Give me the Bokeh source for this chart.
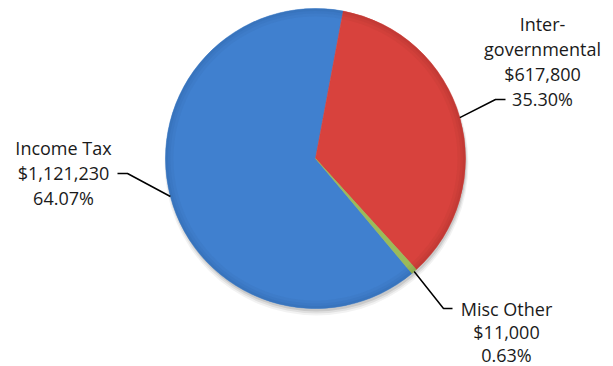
import math
from bokeh.plotting import figure
from bokeh.models import Range1d, ColumnDataSource
from bokeh.core.properties import value
from bokeh.embed import file_html
from bokeh.resources import INLINE

# ---- data ----
categories = ["Income Tax", "Intergovernmental", "Misc Other"]
label_names = [["Income Tax"], ["Inter-", "governmental"], ["Misc Other"]]
amounts = [1121230, 617800, 11000]
colors = ["#4080cf", "#d8423d", "#9bbb59"]
rim_colors = ["#2f62a6", "#a8302c", "#7a9444"]
first_slice_angle = 140.0  # degrees clockwise from 12 o'clock

W, H = 613, 366
cx, cy = 315.0, H - 158.0
R = 150.0

total = sum(amounts)
fracs = [a / total for a in amounts]

starts_cw, ends_cw = [], []
acc = first_slice_angle
for f in fracs:
    starts_cw.append(acc)
    acc += f * 360.0
    ends_cw.append(acc)
mid_cw = [(s + e) / 2 for s, e in zip(starts_cw, ends_cw)]

def to_math(cw_deg):
    return math.radians(90.0 - cw_deg)

src = ColumnDataSource(dict(
    start=[to_math(e) for e in ends_cw],
    end=[to_math(s) for s in starts_cw],
    color=colors,
    rim=rim_colors,
))

p = figure(width=W, height=H, output_backend="svg", toolbar_location=None,
           x_range=Range1d(0, W), y_range=Range1d(0, H),
           min_border=0, outline_line_color=None, background_fill_color="white",
           border_fill_color="white")
p.axis.visible = False
p.grid.visible = False

# soft shadow
for off, rr, a in [(5, R + 2, 0.05), (4, R + 1, 0.07), (3, R, 0.10)]:
    p.scatter(x=[cx + 1], y=[cy - off], size=2 * rr, marker="circle",
              fill_color="#000000", fill_alpha=a, line_color=None)

# slices
p.wedge(x=cx, y=cy, radius=R, start_angle="start", end_angle="end",
        fill_color="color", line_color="color", line_width=0.5, source=src)
# soft darker rim bevel
for inner, a in [(R - 8, 0.12), (R - 5, 0.15), (R - 2.5, 0.2)]:
    p.annular_wedge(x=cx, y=cy, inner_radius=inner, outer_radius=R,
                    start_angle="start", end_angle="end",
                    fill_color="rim", fill_alpha=a, line_color=None, source=src)

# leader lines: anchor on slice mid-angle at the rim
elbows = [(127, H - 173, 117, H - 173),
          (495, H - 99, 505, H - 99),
          (443, H - 308, 452, H - 308)]
for m, (ex, ey, hx, hy) in zip(mid_cw, elbows):
    a = to_math(m)
    ax, ay = cx + R * math.cos(a), cy + R * math.sin(a)
    p.line(x=[ax, ex, hx], y=[ay, ey, hy], line_color="black", line_width=1.5)

# labels
label_pos = [(63, 147, 25.3), (542, 23, 25.3), (506, 308, 23.0)]
for names, amt, f, (lx, ly, gap) in zip(label_names, amounts, fracs, label_pos):
    lines = names + ["${:,}".format(amt), "{:.2f}%".format(f * 100)]
    for i, t in enumerate(lines):
        p.text(x=[lx], y=[H - (ly + i * gap)], text=[t],
               text_align="center", text_baseline="alphabetic",
               text_font=value("Open Sans"), text_font_size="18px",
               text_color="#1a1a1a")

open("out.html", "w").write(file_html(p, INLINE))
